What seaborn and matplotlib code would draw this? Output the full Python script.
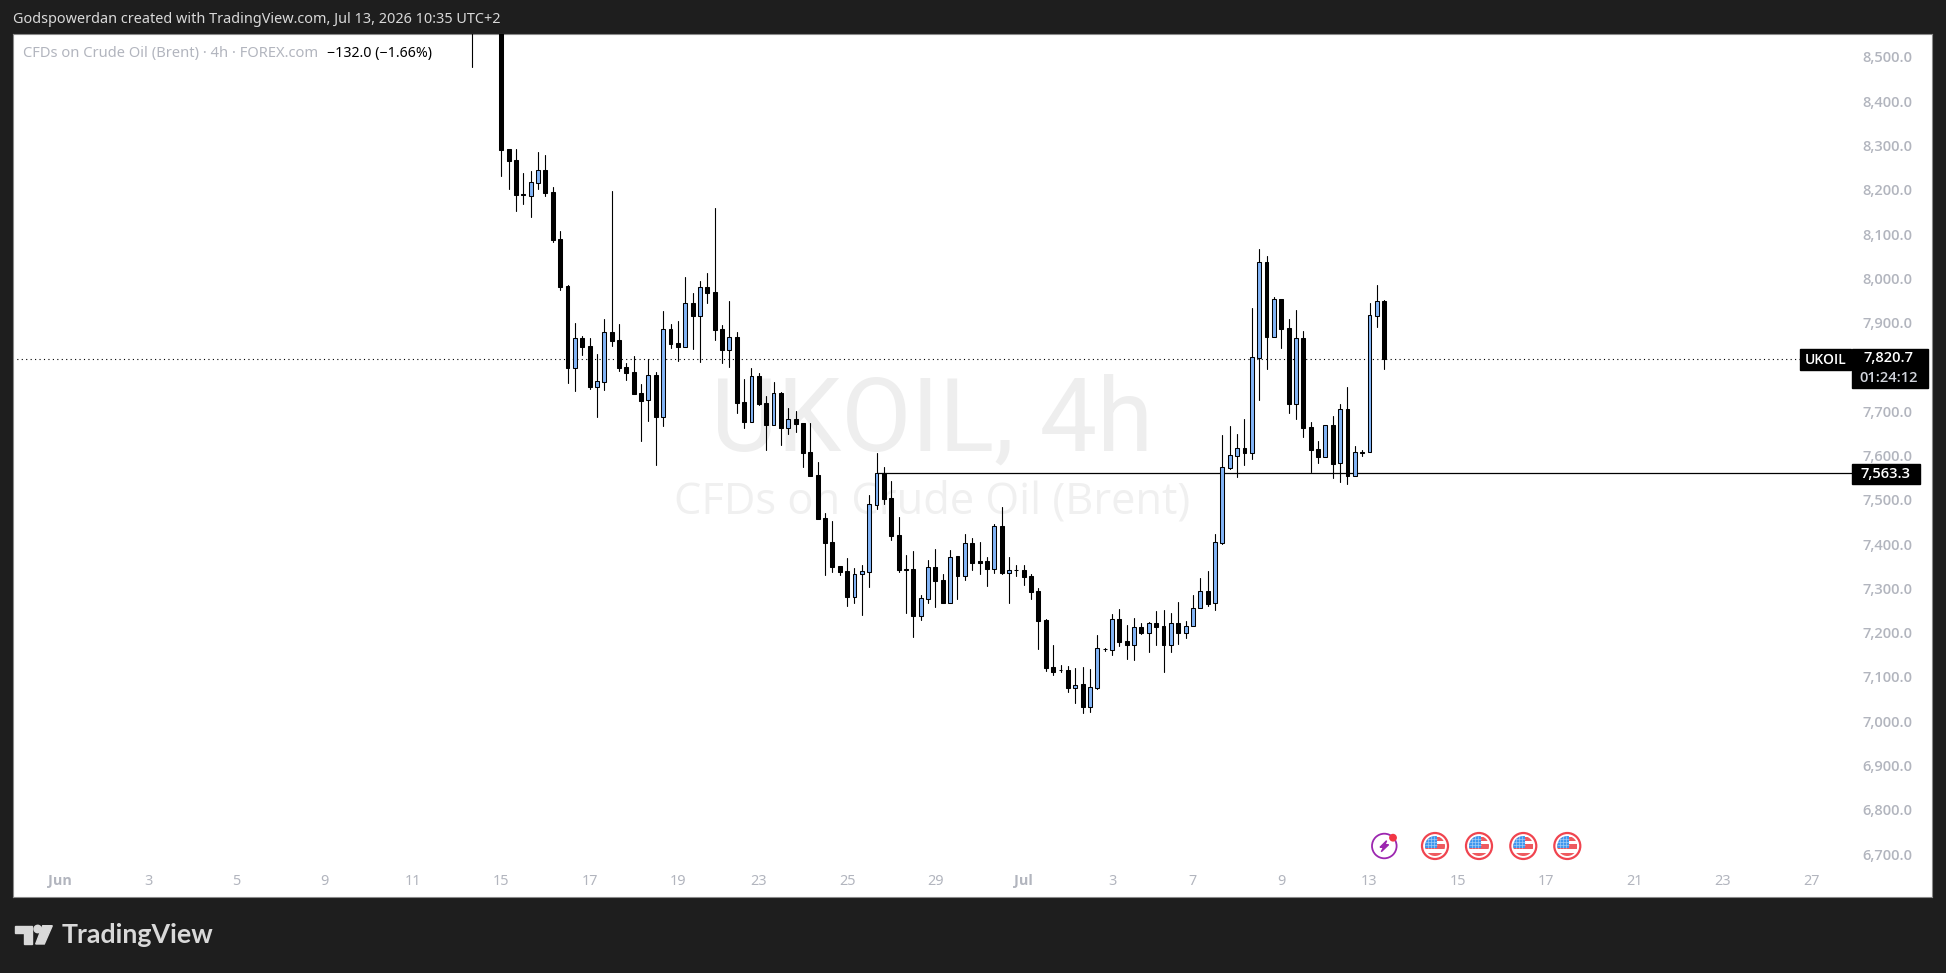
import matplotlib
matplotlib.use("Agg")
import matplotlib.pyplot as plt
from matplotlib.patches import Rectangle, Circle, Polygon
import seaborn as sns
import pandas as pd

sns.set_theme(style="white")
plt.rcParams['font.family'] = ['Noto Sans', 'DejaVu Sans']

# 4h candles, the first four run above the top of the chart
opens = [8660, 8620, 8670, 8720, 8770, 8294.8, 8270.7, 8193.4, 8190.2, 8219.5,
         8248.1, 8197.7, 8092.3, 7986.2, 7801.8, 7868.8, 7850.8, 7759, 7770.2, 7881.6,
         7863.5, 7802.6, 7791.3, 7743.9, 7728.1, 7784.5, 7691.2, 7888.4, 7856.8, 7849.2,
         7947.1, 7919.2, 7983.9, 7972.7, 7889.1, 7842.5, 7871, 7723.6, 7679.9, 7783,
         7722.1, 7673.2, 7744.6, 7666.4, 7685.2, 7676.2, 7610.7, 7559.5, 7462.4, 7408.2,
         7353.3, 7342, 7284.8, 7335.2, 7341.2, 7492.5, 7563.3, 7506.8, 7423.3, 7346.5,
         7346.5, 7241.9, 7280.3, 7351, 7322.4, 7271.2, 7376.6, 7332.2, 7406, 7364.6,
         7365.3, 7348, 7443.6, 7339, 7344.8, 7344.3, 7331.5, 7296.8, 7232.1, 7125.2,
         7118.8, 7118.5, 7079.3, 7086.9, 7036.5, 7079.3, 7167.4, 7165.2, 7233.6, 7184,
         7176.5, 7215.6, 7203.5, 7224.6, 7218.6, 7176.5, 7224.6, 7203.5, 7217.8, 7258.5,
         7296.9, 7269.8, 7406.7, 7575.3, 7603.2, 7619.7, 7609.9, 7824.4, 8039.7, 7871.8,
         7956.1, 7890.7, 7720.6, 7868.1, 7667.1, 7617.5, 7600.9, 7671.6, 7585.8, 7707.8,
         7558, 7610.7, 7610.7, 7919.3, 7952.7]
highs = [8720, 8690, 8740, 8790, 8780, 8294.8, 8294.8, 8241.4, 8245.9, 8288.8,
         8282, 8209, 8110.4, 7987.7, 7902.7, 7873.3, 7868.8, 7832.7, 7911, 8200,
         7900.4, 7811.6, 7828.2, 7765, 7820.7, 7792, 7929.8, 7900.4, 7907.2, 8006.5,
         7969.7, 7996.8, 8015.6, 8162.3, 7898.2, 7952.4, 7881.6, 7776.2, 7801.1, 7789.8,
         7737.1, 7768.7, 7746.9, 7710.8, 7703.2, 7676.2, 7676.2, 7588.1, 7473.7, 7455.6,
         7354.8, 7371.3, 7348.8, 7356.3, 7514.3, 7609.2, 7577.6, 7546, 7464.7, 7378.9,
         7387.9, 7287.8, 7367.6, 7391.7, 7335.2, 7389.4, 7376.6, 7426.3, 7417.3, 7408.2,
         7373.6, 7448.9, 7487.2, 7374.3, 7356.3, 7356.3, 7335.2, 7304.4, 7233.6, 7175.7,
         7130.5, 7127.5, 7123.7, 7126, 7121.5, 7198.2, 7169, 7245.7, 7257, 7220.8,
         7236.6, 7225.4, 7227.6, 7252.5, 7254.7, 7247.9, 7272.8, 7229.9, 7288.6, 7326.9,
         7342.8, 7426.3, 7649.8, 7670.1, 7652, 7686, 7936.6, 8069.8, 8054, 7960.7,
         7956.1, 7911.7, 7932, 7884.6, 7679.2, 7636.3, 7671.6, 7692.7, 7719.8, 7758.2,
         7625, 7616, 7947.9, 7988.5, 7953.9]
lows = [8481.4, 8600, 8650, 8700, 8235.3, 8206, 8156.3, 8171, 8142.8, 8206,
        8190.2, 8086.3, 7977.9, 7767.9, 7749.9, 7830.4, 7753.7, 7691.2, 7751.4, 7850.8,
        7794.3, 7774, 7743.1, 7637, 7682.2, 7581, 7670.9, 7846.2, 7816.9, 7849.2,
        7844, 7814.6, 7947.9, 7864.3, 7812.4, 7803.3, 7699.5, 7665.6, 7679.9, 7717.5,
        7615.9, 7673.2, 7627.3, 7652, 7656.6, 7577.6, 7558, 7460.2, 7333.7, 7340.5,
        7333.7, 7263.7, 7270.5, 7243.4, 7306.6, 7482.7, 7494.8, 7412.7, 7340.5, 7247.9,
        7193.7, 7232.1, 7270.5, 7261.5, 7269.7, 7271.2, 7279.5, 7322.4, 7345, 7336,
        7308.9, 7339, 7336, 7270.5, 7331.5, 7311.1, 7279.5, 7166.6, 7117.7, 7108.7,
        7114.7, 7070.3, 7044.7, 7022.9, 7025.2, 7077, 7162.1, 7153.9, 7174.2, 7144.8,
        7141.8, 7200.5, 7159.9, 7175.7, 7115.5, 7159.9, 7178, 7192.2, 7217.8, 7258.5,
        7264.5, 7255.5, 7404.5, 7573, 7555, 7582.1, 7595.6, 7728.8, 7798.8, 7871.8,
        7846.3, 7699.5, 7686, 7645.3, 7566.3, 7586.6, 7600.9, 7552.7, 7543.7, 7539.2,
        7558, 7602.4, 7610.7, 7893.7, 7798.8]
closes = [8620, 8670, 8720, 8770, 8293.3, 8269.2, 8192.4, 8192.6, 8220.3, 8247.4,
          8196.2, 8090, 7984, 7801.8, 7868, 7849.2, 7758.2, 7771, 7881.6, 7862.8,
          7801.8, 7790.6, 7743.1, 7727.4, 7784.5, 7691.2, 7888.4, 7856, 7849.2, 7947.1,
          7919.2, 7983.2, 7970.4, 7886.9, 7841.7, 7870.3, 7722.1, 7679.2, 7782.3, 7719.8,
          7672.4, 7743.9, 7665.6, 7685.2, 7674.6, 7609.9, 7558, 7460.2, 7406.7, 7352.5,
          7341.2, 7284.8, 7335.2, 7342, 7493.3, 7563.3, 7505.3, 7421.8, 7345, 7346,
          7241.1, 7281, 7351, 7320.9, 7269.7, 7375.1, 7331.5, 7405.2, 7360.8, 7361.6,
          7347.3, 7443.6, 7339, 7344.3, 7344, 7329.2, 7295.3, 7230.6, 7123.7, 7114.7,
          7118.2, 7079.3, 7086.1, 7036.5, 7080, 7168.1, 7167, 7233.6, 7183.2, 7176.5,
          7215.6, 7203.5, 7224.6, 7217.1, 7175.7, 7224.6, 7203.5, 7217.8, 7258.5, 7296.9,
          7269, 7407.5, 7576.8, 7603.9, 7619.7, 7609.9, 7825.2, 8039.7, 7871.1, 7956.1,
          7889.2, 7719.8, 7868.1, 7665.6, 7616, 7600.2, 7671.6, 7584.3, 7707.8, 7558,
          7610.7, 7610.2, 7920, 7951.6, 7820.7]

# 7,800 sits behind the price tag so it is left out
price_ticks = [6700, 6800, 6900, 7000, 7100, 7200, 7300, 7400, 7500, 7600,
               7700, 7900, 8000, 8100, 8200, 8300, 8400, 8500]
date_ticks = [-56, -44, -32, -20, -8, 4, 16, 28, 39, 51, 63, 75, 87, 98, 110, 122, 134, 146, 158, 170, 182]
date_labels = ['Jun', '3', '5', '9', '11', '15', '17', '19', '23', '25', '29',
               'Jul', '3', '7', '9', '13', '15', '17', '21', '23', '27']
last_price = 7820.7
level_price = 7563.3
level_start = 55

BG = '#1e1e1e'
GREY = '#b2b5be'
UP = '#82b4f6'
W, H = 1946, 973

df = pd.DataFrame({'open': opens, 'high': highs, 'low': lows, 'close': closes})
df['bar'] = df.index
wicks = df.melt(id_vars='bar', value_vars=['high', 'low'], value_name='price')

fig = plt.figure(figsize=(W / 100, H / 100), dpi=100, facecolor=BG)
L, R, T, B = 13, 1932, 34, 897
ax = fig.add_axes([L / W, 1 - B / H, (R - L) / W, (B - T) / H], facecolor='white')

sns.lineplot(data=wicks, x='bar', y='price', units='bar', estimator=None, sort=False,
             color='black', lw=0.8, zorder=3, legend=False, ax=ax)

body_low = df[['open', 'close']].min(axis=1)
body_h = (df['open'] - df['close']).abs()
up = df['close'] >= df['open']
ax.bar(df['bar'], body_h, bottom=body_low, width=0.53, lw=0.75, edgecolor='black',
       color=[UP if u else 'black' for u in up], zorder=4)

# last price and the drawn level
ax.plot([-70, 181], [last_price, last_price], color='black', lw=0.8, ls=(0, (1, 3)), zorder=2)
ax.plot([level_start, 188], [level_price, level_price], color='black', lw=0.9, zorder=2)

# watermark
ax.text(0.4788, 0.5495, 'UKOIL, 4h', transform=ax.transAxes, ha='center', va='center',
        fontsize=73.5, color='#eeeeee', family='Roboto', zorder=0)
ax.text(0.4788, 0.4575, 'CFDs on Crude Oil (Brent)', transform=ax.transAxes, ha='center', va='center',
        fontsize=31.3, color='#f0f0f0', family='Open Sans', zorder=0)

ax.set_xlim(-62.36, 198.44)
ax.set_ylim(6606.6, 8555.2)
ax.set_xlabel('')
ax.set_ylabel('')
ax.set_xticks(date_ticks, date_labels)
ax.yaxis.tick_right()
ax.set_yticks(price_ticks, [f'{p:,.1f}' for p in price_ticks])
ax.tick_params(axis='x', length=0, pad=-16.5, labelsize=10.4, labelcolor=GREY)
ax.tick_params(axis='y', length=0, pad=-50, labelsize=10.6, labelcolor=GREY)
for lab in ax.get_yticklabels():
    lab.set_family('Open Sans')
    lab.set_fontweight('semibold')
    lab.set_verticalalignment('center')
for i in (0, 11):
    lab = ax.get_xticklabels()[i]
    lab.set_family('Open Sans')
    lab.set_fontweight('bold')
for s in ax.spines.values():
    s.set_visible(True)
    s.set_color('#8a8a8a')
    s.set_linewidth(0.8)

# page furniture, in pixels
ov = fig.add_axes([0, 0, 1, 1], facecolor='none')
ov.set_xlim(0, W)
ov.set_ylim(H, 0)
ov.axis('off')

ov.text(13, 19.5, 'Godspowerdan created with TradingView.com, Jul 13, 2026 10:35 UTC+2',
        color='#d9d9d9', fontsize=10.4, va='center')
ov.text(23, 54, 'CFDs on Crude Oil (Brent) · 4h · FOREX.com', color=GREY, fontsize=10.6, va='center')
ov.text(327, 54, '−132.0 (−1.66%)', color='black', fontsize=10.2, va='center')

ov.add_patch(Rectangle((1800, 349), 51, 20.5, color='black', zorder=5))
ov.add_patch(Rectangle((1852, 349), 75.5, 38.5, color='black', zorder=5))
ov.add_patch(Rectangle((1852, 463.5), 67.5, 20.5, color='black', zorder=5))
ov.text(1825.5, 359.5, 'UKOIL', color='white', fontsize=10, ha='center', va='center', zorder=6,
        family='Open Sans', fontweight='semibold')
ov.text(1888, 358.5, f'{last_price:,.1f}', color='white', fontsize=10.6, ha='center', va='center', zorder=6,
        family='Open Sans', fontweight='semibold')
ov.text(1889, 377.5, '01:24:12', color='#d1d4dc', fontsize=10.6, ha='center', va='center', zorder=6,
        family='Open Sans', fontweight='semibold')
ov.text(1885.5, 473.5, f'{level_price:,.1f}', color='white', fontsize=10.6, ha='center', va='center', zorder=6,
        family='Open Sans', fontweight='semibold')

# event icons
ov.add_patch(Circle((1384.3, 846), 12.3, fc='white', ec='#9c27b0', lw=1.3, zorder=5))
bolt = [(2.3, -5.3), (-4.3, 1.3), (-0.7, 1.3), (-3, 5.7), (4.3, -1.3), (0.7, -1.3)]
ov.add_patch(Polygon([(1384.3 + a, 846 + b) for a, b in bolt], color='#9c27b0', zorder=6))
ov.add_patch(Circle((1393, 837.7), 3.2, color='#f23645', zorder=7))
for cx in [1435, 1479, 1523.3, 1567.3]:
    ov.add_patch(Circle((cx, 846), 13, fc='white', ec='#f0444f', lw=1.6, zorder=5))
    disc = Circle((cx, 846), 10, fc='white', ec='none', zorder=6)
    ov.add_patch(disc)
    for y0, y1 in [(-8.7, -5.3), (-1.7, 3.3), (6.7, 10)]:
        stripe = Rectangle((cx - 10, 846 + y0), 20, y1 - y0, fc='#ee5a5f', ec='none', zorder=6)
        ov.add_patch(stripe)
        stripe.set_clip_path(disc)
    canton = Rectangle((cx - 10, 836), 11.5, 11.5, fc='#3f97ee', ec='none', zorder=7)
    ov.add_patch(canton)
    canton.set_clip_path(disc)
    # the little star grid on the canton
    for off in [3, 6, 9]:
        g1, = ov.plot([cx - 10 + off, cx - 10 + off], [836, 847.5], color='#b9d9f8', lw=0.4, zorder=8)
        g2, = ov.plot([cx - 10, cx + 1.5], [836 + off, 836 + off], color='#b9d9f8', lw=0.4, zorder=8)
        g1.set_clip_path(disc)
        g2.set_clip_path(disc)

# logo
logo = '#d9d9d9'
ov.add_patch(Polygon([(15.3, 925.7), (31.7, 925.7), (31.7, 944), (24, 944), (24, 932.7), (15.3, 932.7)], color=logo))
ov.add_patch(Circle((37.7, 929), 3.7, color=logo))
ov.add_patch(Polygon([(42.7, 925.7), (52.3, 925.7), (44.3, 944), (35.7, 944)], color=logo))
ov.text(61.5, 935, 'TradingView', color=logo, fontsize=19.3, family='Lato', fontweight='bold', va='center')

fig.savefig('out.png', dpi=100, facecolor=BG)
